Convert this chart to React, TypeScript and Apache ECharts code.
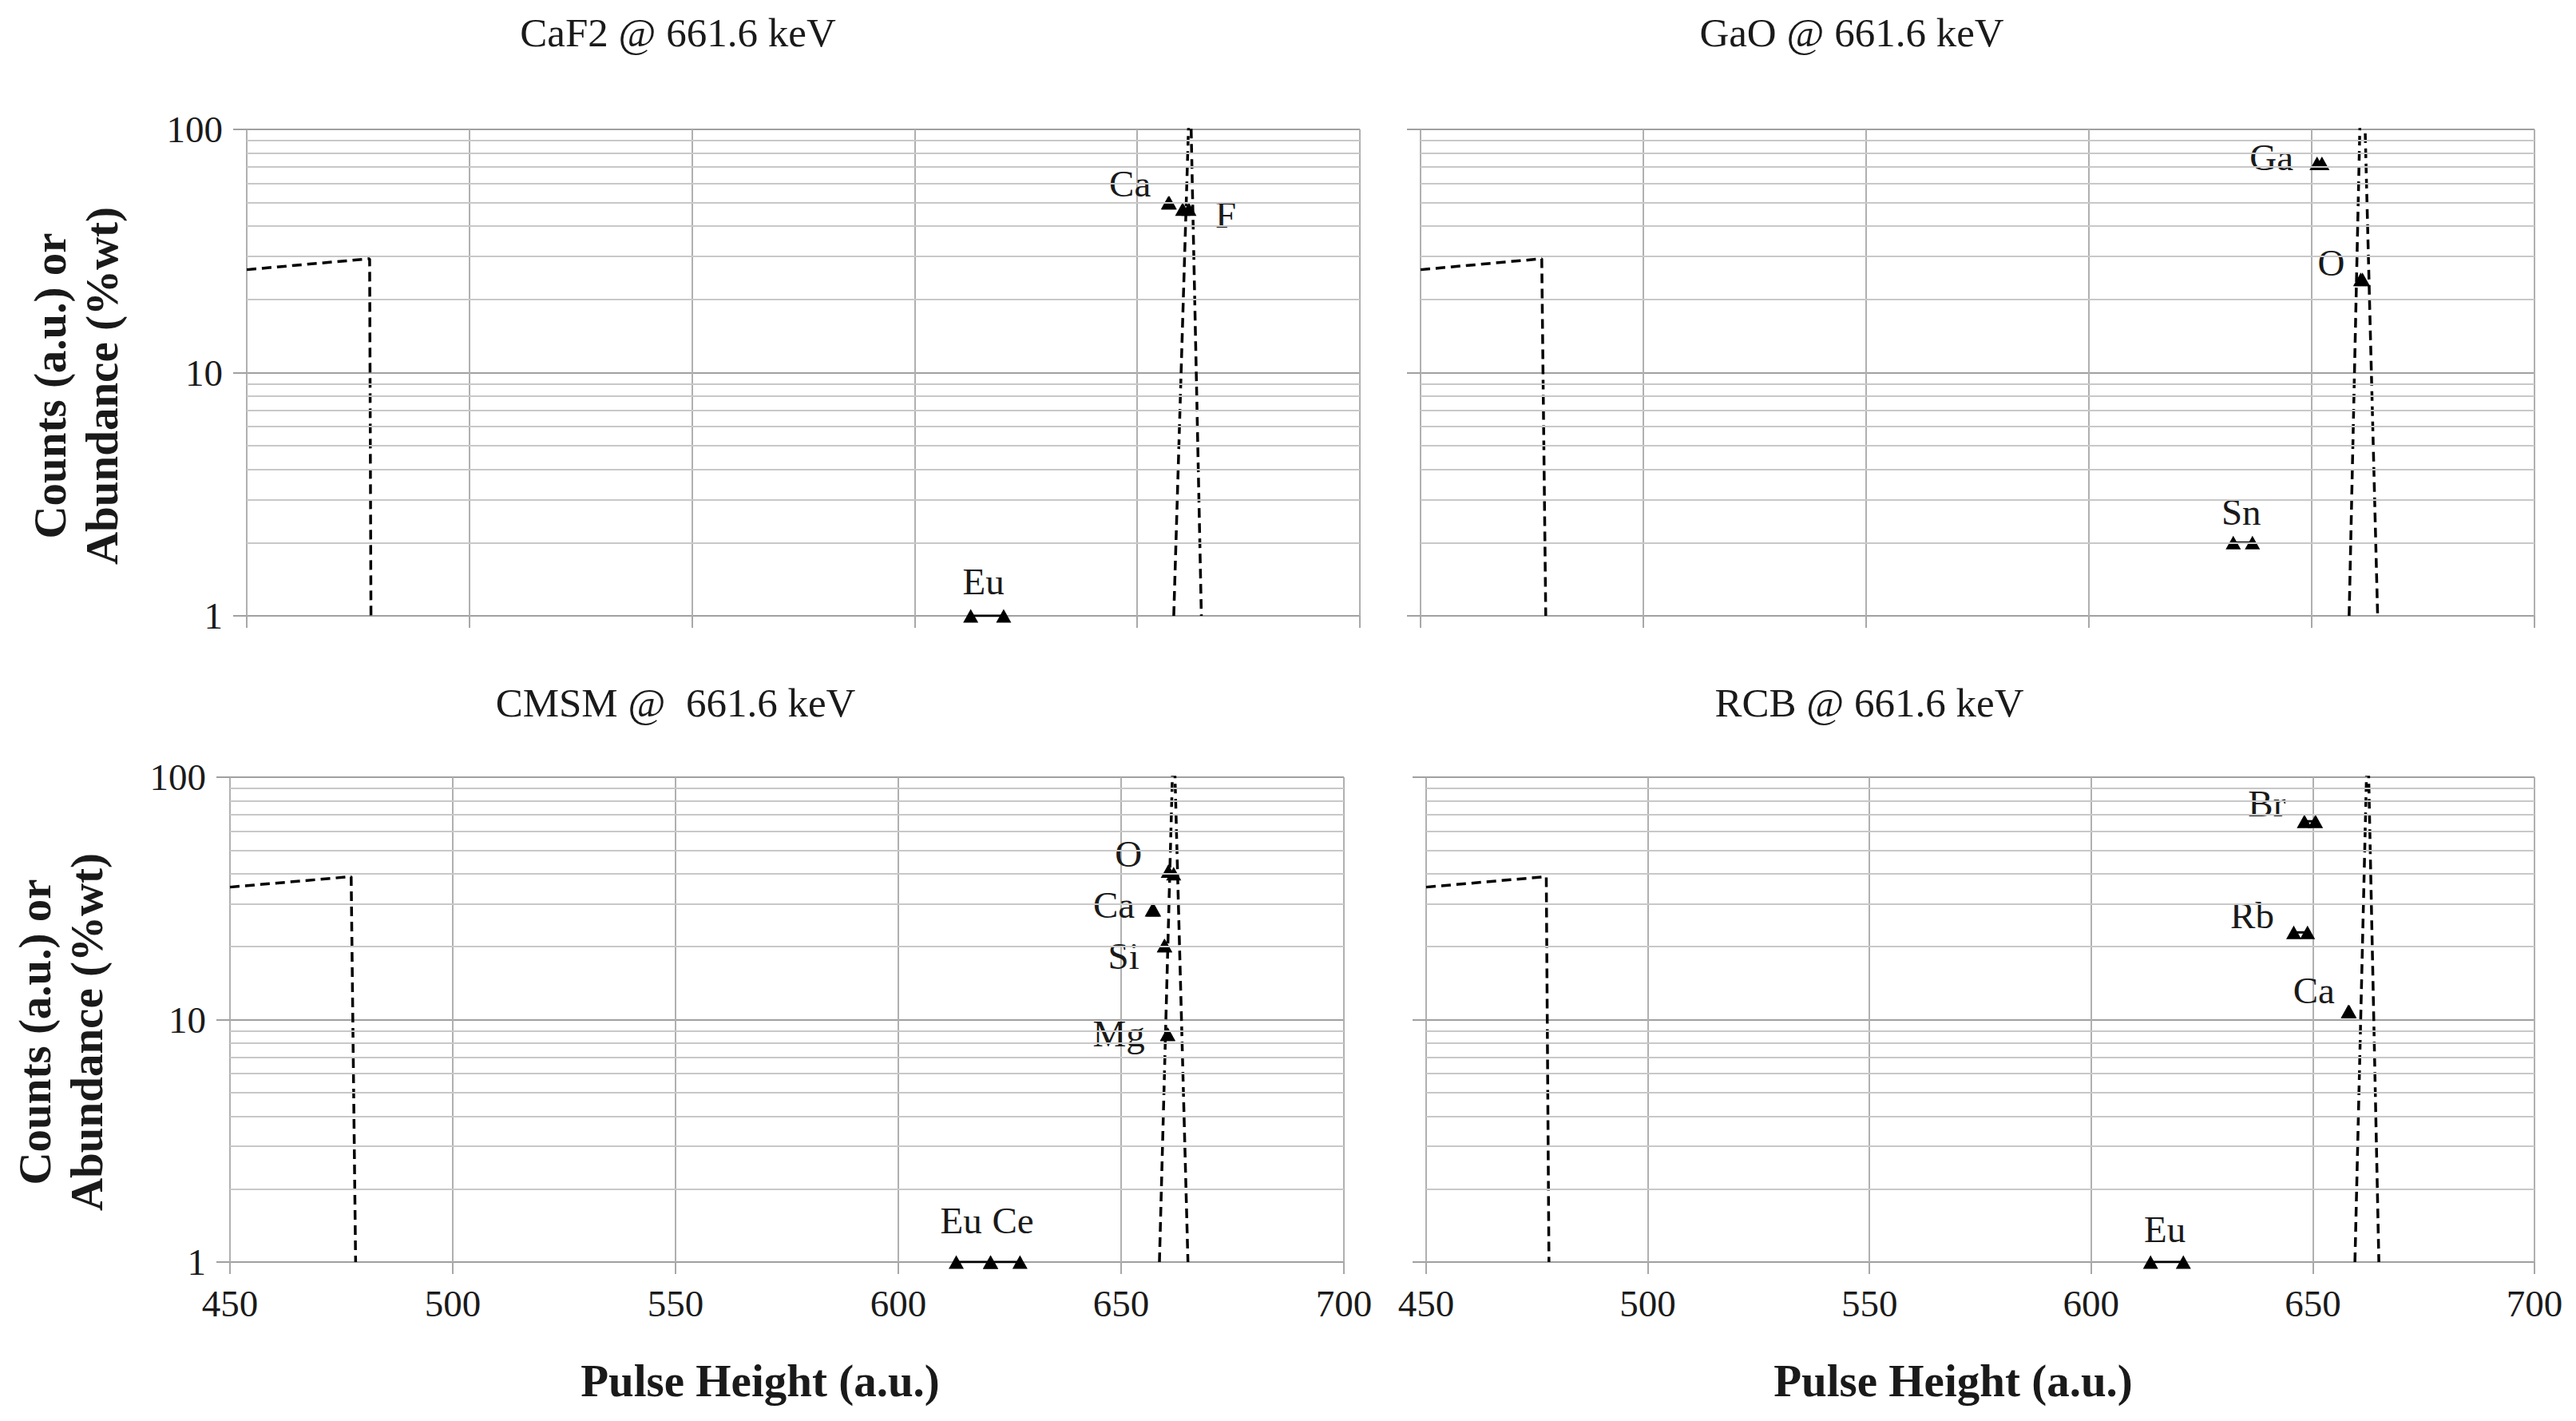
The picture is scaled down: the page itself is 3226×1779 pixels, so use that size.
import { useEffect, useRef } from "react";
import * as echarts from "echarts";

// minor log grid lines between decades
const yMinorTicks = [2, 3, 4, 5, 6, 7, 8, 9, 20, 30, 40, 50, 60, 70, 80, 90];

// CaF2
const caf2Continuum = [[450, 26.5], [477.6, 29.4], [477.9, 1]];
const caf2Peak = [[658.2, 1], [661.86, 165], [664.4, 1]];
const caf2Eu = [[612.6, 1], [620, 1]];
const caf2Ca = [[657.0, 50], [657.2, 50]];
const caf2F = [[660.2, 47], [661.6, 47]];

// GaO
const gaoContinuum = [[450, 26.5], [477.2, 29.4], [478.1, 1]];
const gaoPeak = [[658.4, 1], [661.35, 287], [664.8, 1]];
const gaoSn = [[632.4, 2], [636.7, 2]];
const gaoGa = [[651.2, 72.5], [652.3, 72.5]];
const gaoO = [[661.0, 24.2], [661.4, 24.2]];

// CMSM
const cmsmContinuum = [[450, 35.2], [477.2, 38.9], [478.2, 1]];
const cmsmPeak = [[658.6, 1], [661.8, 161], [665.0, 1]];
const cmsmEu = [[613.0, 1], [620.7, 1]];
const cmsmCe = [[620.7, 1], [627.3, 1]];
const cmsmO = [[660.6, 41], [661.8, 40]];
const cmsmCa = [[657.0, 28.4], [657.3, 28.4]];
const cmsmSi = [[659.7, 20.2], [659.8, 20.2]];
const cmsmMg = [[660.4, 8.7], [660.5, 8.7]];

// RCB
const rcbContinuum = [[450, 35.2], [477.1, 38.9], [477.7, 1]];
const rcbPeak = [[659.5, 1], [662.37, 161], [664.9, 1]];
const rcbEu = [[613.4, 1], [620.8, 1]];
const rcbBr = [[648.1, 65.8], [650.6, 65.8]];
const rcbRb = [[645.7, 22.9], [648.8, 22.9]];
const rcbCa = [[658.0, 10.8], [658.2, 10.8]];

const SERIF = "'Liberation Serif', 'DejaVu Serif', serif";
const TEXT = "#1a1a1a";

type El = { name: string; data: number[][]; offset: [number, number] };
type Panel = {
  title: string;
  titlePos: [number, number];
  grid: { left: number; top: number; width: number; height: number };
  continuum: number[][];
  peak: number[][];
  elements: El[];
  xLabels: boolean;
  yLabels: boolean;
};

const panels: Panel[] = [
  {
    title: "CaF2 @ 661.6 keV",
    titlePos: [849, 41],
    grid: { left: 309, top: 162, width: 1394, height: 609 },
    continuum: caf2Continuum,
    peak: caf2Peak,
    elements: [
      { name: "Eu", data: caf2Eu, offset: [16, -43] },
      { name: "Ca", data: caf2Ca, offset: [-48, -24] },
      { name: "F", data: caf2F, offset: [54, 7] },
    ],
    xLabels: false,
    yLabels: true,
  },
  {
    title: "GaO @ 661.6 keV",
    titlePos: [2319, 41],
    grid: { left: 1779, top: 162, width: 1395, height: 609 },
    continuum: gaoContinuum,
    peak: gaoPeak,
    elements: [
      { name: "Sn", data: gaoSn, offset: [10, -38] },
      { name: "Ga", data: gaoGa, offset: [-57, -8] },
      { name: "O", data: gaoO, offset: [-37, -21] },
    ],
    xLabels: false,
    yLabels: false,
  },
  {
    title: "CMSM @  661.6 keV",
    titlePos: [846, 880],
    grid: { left: 288, top: 973, width: 1395, height: 607 },
    continuum: cmsmContinuum,
    peak: cmsmPeak,
    elements: [
      { name: "Eu", data: cmsmEu, offset: [6, -52] },
      { name: "Ce", data: cmsmCe, offset: [28, -52] },
      { name: "O", data: cmsmO, offset: [-50, -22] },
      { name: "Ca", data: cmsmCa, offset: [-48, -6] },
      { name: "Si", data: cmsmSi, offset: [-51, 13] },
      { name: "Mg", data: cmsmMg, offset: [-61, -1] },
    ],
    xLabels: true,
    yLabels: true,
  },
  {
    title: "RCB @ 661.6 keV",
    titlePos: [2341, 880],
    grid: { left: 1786, top: 973, width: 1388, height: 607 },
    continuum: rcbContinuum,
    peak: rcbPeak,
    elements: [
      { name: "Eu", data: rcbEu, offset: [18, -41] },
      { name: "Br", data: rcbBr, offset: [-47, -22] },
      { name: "Rb", data: rcbRb, offset: [-52, -21] },
      { name: "Ca", data: rcbCa, offset: [-43, -26] },
    ],
    xLabels: true,
    yLabels: false,
  },
];

function buildOption() {
  const grid = panels.map((p) => p.grid);
  const xAxis = panels.map((p, i) => ({
    type: "value",
    gridIndex: i,
    min: 450,
    max: 700,
    interval: 50,
    axisLine: { show: false },
    axisTick: { show: true, length: 15, lineStyle: { color: "#a8a8a8", width: 2 } },
    axisLabel: {
      show: p.xLabels,
      margin: 28,
      fontFamily: SERIF,
      fontSize: 47,
      color: TEXT,
    },
    splitLine: { show: true, lineStyle: { color: "#b0b0b0", width: 2 } },
  }));
  const yAxis = panels.map((p, i) => ({
    type: "log",
    logBase: 10,
    gridIndex: i,
    min: 1,
    max: 100,
    axisLine: { show: false },
    axisTick: { show: true, length: 17, lineStyle: { color: "#a0a0a0", width: 2 } },
    axisLabel: {
      show: p.yLabels,
      margin: 30,
      fontFamily: SERIF,
      fontSize: 47,
      color: TEXT,
    },
    splitLine: { show: true, lineStyle: { color: "#a0a0a0", width: 2 } },
  }));

  const series: any[] = [];
  panels.forEach((p, i) => {
    series.push({
      type: "line",
      xAxisIndex: i,
      yAxisIndex: i,
      data: [],
      z: 1,
      silent: true,
      markLine: {
        silent: true,
        symbol: "none",
        label: { show: false },
        lineStyle: { color: "#c8c8c8", width: 2, type: "solid" },
        data: yMinorTicks.map((v) => ({ yAxis: v })),
      },
    });
    [p.continuum, p.peak].forEach((d) => {
      series.push({
        type: "line",
        xAxisIndex: i,
        yAxisIndex: i,
        data: d,
        showSymbol: false,
        symbol: "none",
        lineStyle: { color: "#000", width: 3.5, type: [12, 7] },
        z: 3,
      });
    });
    p.elements.forEach((el) => {
      series.push({
        type: "line",
        name: el.name,
        xAxisIndex: i,
        yAxisIndex: i,
        symbol: "triangle",
        symbolSize: [19, 17],
        showAllSymbol: true,
        lineStyle: { color: "#000", width: 3, type: "solid" },
        itemStyle: { color: "#000" },
        label: { show: false },
        z: 4,
        data: el.data.map((pt, k) =>
          k === 0
            ? {
                value: pt,
                label: {
                  show: true,
                  formatter: el.name,
                  position: "inside",
                  offset: el.offset,
                  fontFamily: SERIF,
                  fontSize: 47,
                  color: TEXT,
                  textBorderWidth: 0,
                },
              }
            : pt
        ),
      });
    });
  });

  const graphic: any[] = [];
  panels.forEach((p) => {
    graphic.push({
      type: "text",
      x: p.titlePos[0],
      y: p.titlePos[1],
      style: {
        text: p.title,
        align: "center",
        verticalAlign: "middle",
        font: `51px ${SERIF}`,
        fill: TEXT,
      },
    });
  });
  const yTitle = "Counts (a.u.) or\nAbundance (%wt)";
  [
    [95, 483],
    [76, 1292],
  ].forEach(([x, y]) => {
    graphic.push({
      type: "text",
      x,
      y,
      rotation: Math.PI / 2,
      style: {
        text: yTitle,
        align: "center",
        verticalAlign: "middle",
        font: `bold 57px ${SERIF}`,
        lineHeight: 65,
        fill: TEXT,
      },
    });
  });
  [
    [952, 1728],
    [2446, 1728],
  ].forEach(([x, y]) => {
    graphic.push({
      type: "text",
      x,
      y,
      style: {
        text: "Pulse Height (a.u.)",
        align: "center",
        verticalAlign: "middle",
        font: `bold 57px ${SERIF}`,
        fill: TEXT,
      },
    });
  });

  return {
    animation: false,
    backgroundColor: "#ffffff",
    grid,
    xAxis,
    yAxis,
    series,
    graphic,
  };
}

export default function App() {
  const chartRef = useRef<HTMLDivElement | null>(null);

  useEffect(() => {
    document.body.style.margin = "0";
    if (!chartRef.current) return;
    const chart = echarts.init(chartRef.current, undefined, { renderer: "svg" });
    chart.setOption(buildOption() as any);
    return () => {
      chart.dispose();
    };
  }, []);

  return <div ref={chartRef} style={{ width: 3226, height: 1779 }} />;
}
